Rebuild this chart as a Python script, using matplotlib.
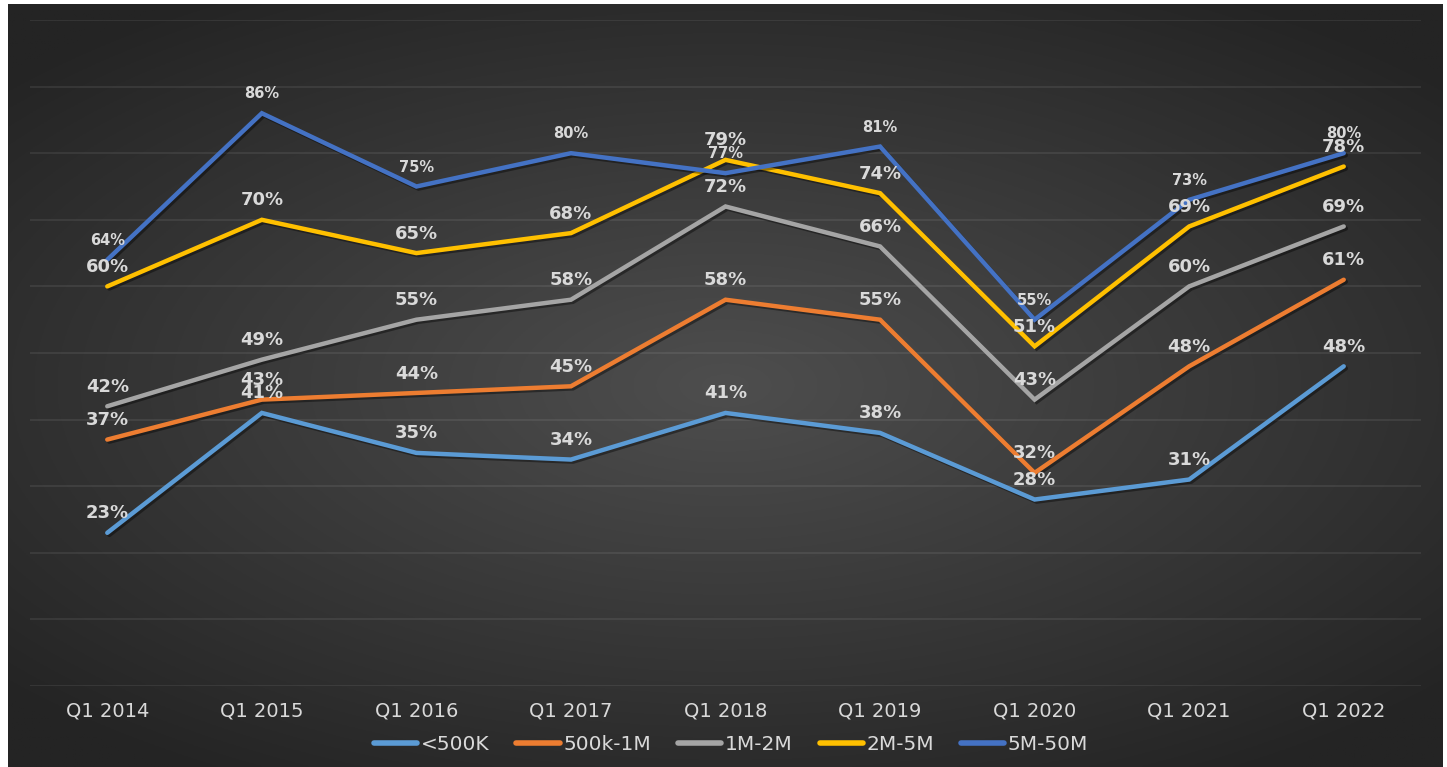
import numpy as np
import matplotlib
matplotlib.use('Agg')
import matplotlib.pyplot as plt
import matplotlib.patheffects as pe

trimestres = ['Q1 2014', 'Q1 2015', 'Q1 2016', 'Q1 2017', 'Q1 2018',
              'Q1 2019', 'Q1 2020', 'Q1 2021', 'Q1 2022']

menos_500k = [23, 41, 35, 34, 41, 38, 28, 31, 48]
de_500k_1m = [37, 43, 44, 45, 58, 55, 32, 48, 61]
de_1m_2m = [42, 49, 55, 58, 72, 66, 43, 60, 69]
de_2m_5m = [60, 70, 65, 68, 79, 74, 51, 69, 78]
de_5m_50m = [64, 86, 75, 80, 77, 81, 55, 73, 80]

series = [
    ('<500K', menos_500k, '#5B9BD5'),
    ('500k-1M', de_500k_1m, '#ED7D31'),
    ('1M-2M', de_1m_2m, '#A5A5A5'),
    ('2M-5M', de_2m_5m, '#FFC000'),
    ('5M-50M', de_5m_50m, '#4472C4'),
]

W, H = 1447, 767
fig = plt.figure(figsize=(W / 100, H / 100), dpi=100)
fig.patch.set_facecolor('white')

# fundo com gradiente radial
bg = fig.add_axes([8 / W, 0, (1443 - 8) / W, (767 - 4) / H], zorder=-5)
yy, xx = np.mgrid[-1:1:400j, -1:1:800j]
r = np.sqrt((xx / 1.0) ** 2 + (yy / 0.9) ** 2)
r = np.clip(r / 1.35, 0, 1)
centro = np.array([0x4e, 0x4e, 0x4e]) / 255
borda = np.array([0x24, 0x24, 0x24]) / 255
img = centro[None, None, :] * (1 - r[..., None]) + borda[None, None, :] * r[..., None]
bg.imshow(img, aspect='auto', extent=[0, 1, 0, 1])
bg.axis('off')

ax = fig.add_axes([30 / W, (767 - 686) / H, (1421 - 30) / W, (686 - 20) / H])
ax.set_facecolor('none')
ax.set_xlim(-0.5, 8.5)
ax.set_ylim(0, 100)
ax.set_yticks(range(0, 101, 10))
ax.set_yticklabels([])
ax.tick_params(axis='y', length=0)
ax.grid(True, axis='y', color='white', alpha=0.09, linewidth=1.2)
for s in ax.spines.values():
    s.set_visible(False)

x = np.arange(len(trimestres))
ax.set_xticks(x)
ax.set_xticklabels(trimestres, color='#d9d9d9', fontsize=14, family='DejaVu Sans')
ax.tick_params(axis='x', length=0, pad=11)

sombra = [pe.SimpleLineShadow(offset=(1.5, -1.5), alpha=0.4, shadow_color='black'), pe.Normal()]
for nome, vals, cor in series:
    ax.plot(x, vals, color=cor, linewidth=3.2, label=nome,
            solid_capstyle='round', solid_joinstyle='miter', path_effects=sombra)

for nome, vals, cor in series:
    tam = 10.5 if nome == '5M-50M' else 13
    for xi, v in zip(x, vals):
        ax.annotate(f'{v}%', (xi, v), xytext=(0, 14), textcoords='offset points',
                    ha='center', va='center', color='#d9d9d9', fontsize=tam,
                    fontweight='bold', family='DejaVu Sans')

leg = fig.legend(loc='center', bbox_to_anchor=(731 / W, 1 - 745 / H), ncol=5,
                 frameon=False, handlelength=2.15, handletextpad=0.17,
                 columnspacing=1.35, prop={'family': 'DejaVu Sans', 'size': 14.5})
for t in leg.get_texts():
    t.set_color('#d9d9d9')
for l in leg.get_lines():
    l.set_linewidth(4)
    l.set_path_effects([])

fig.savefig('out.png', dpi=100, facecolor='white')
